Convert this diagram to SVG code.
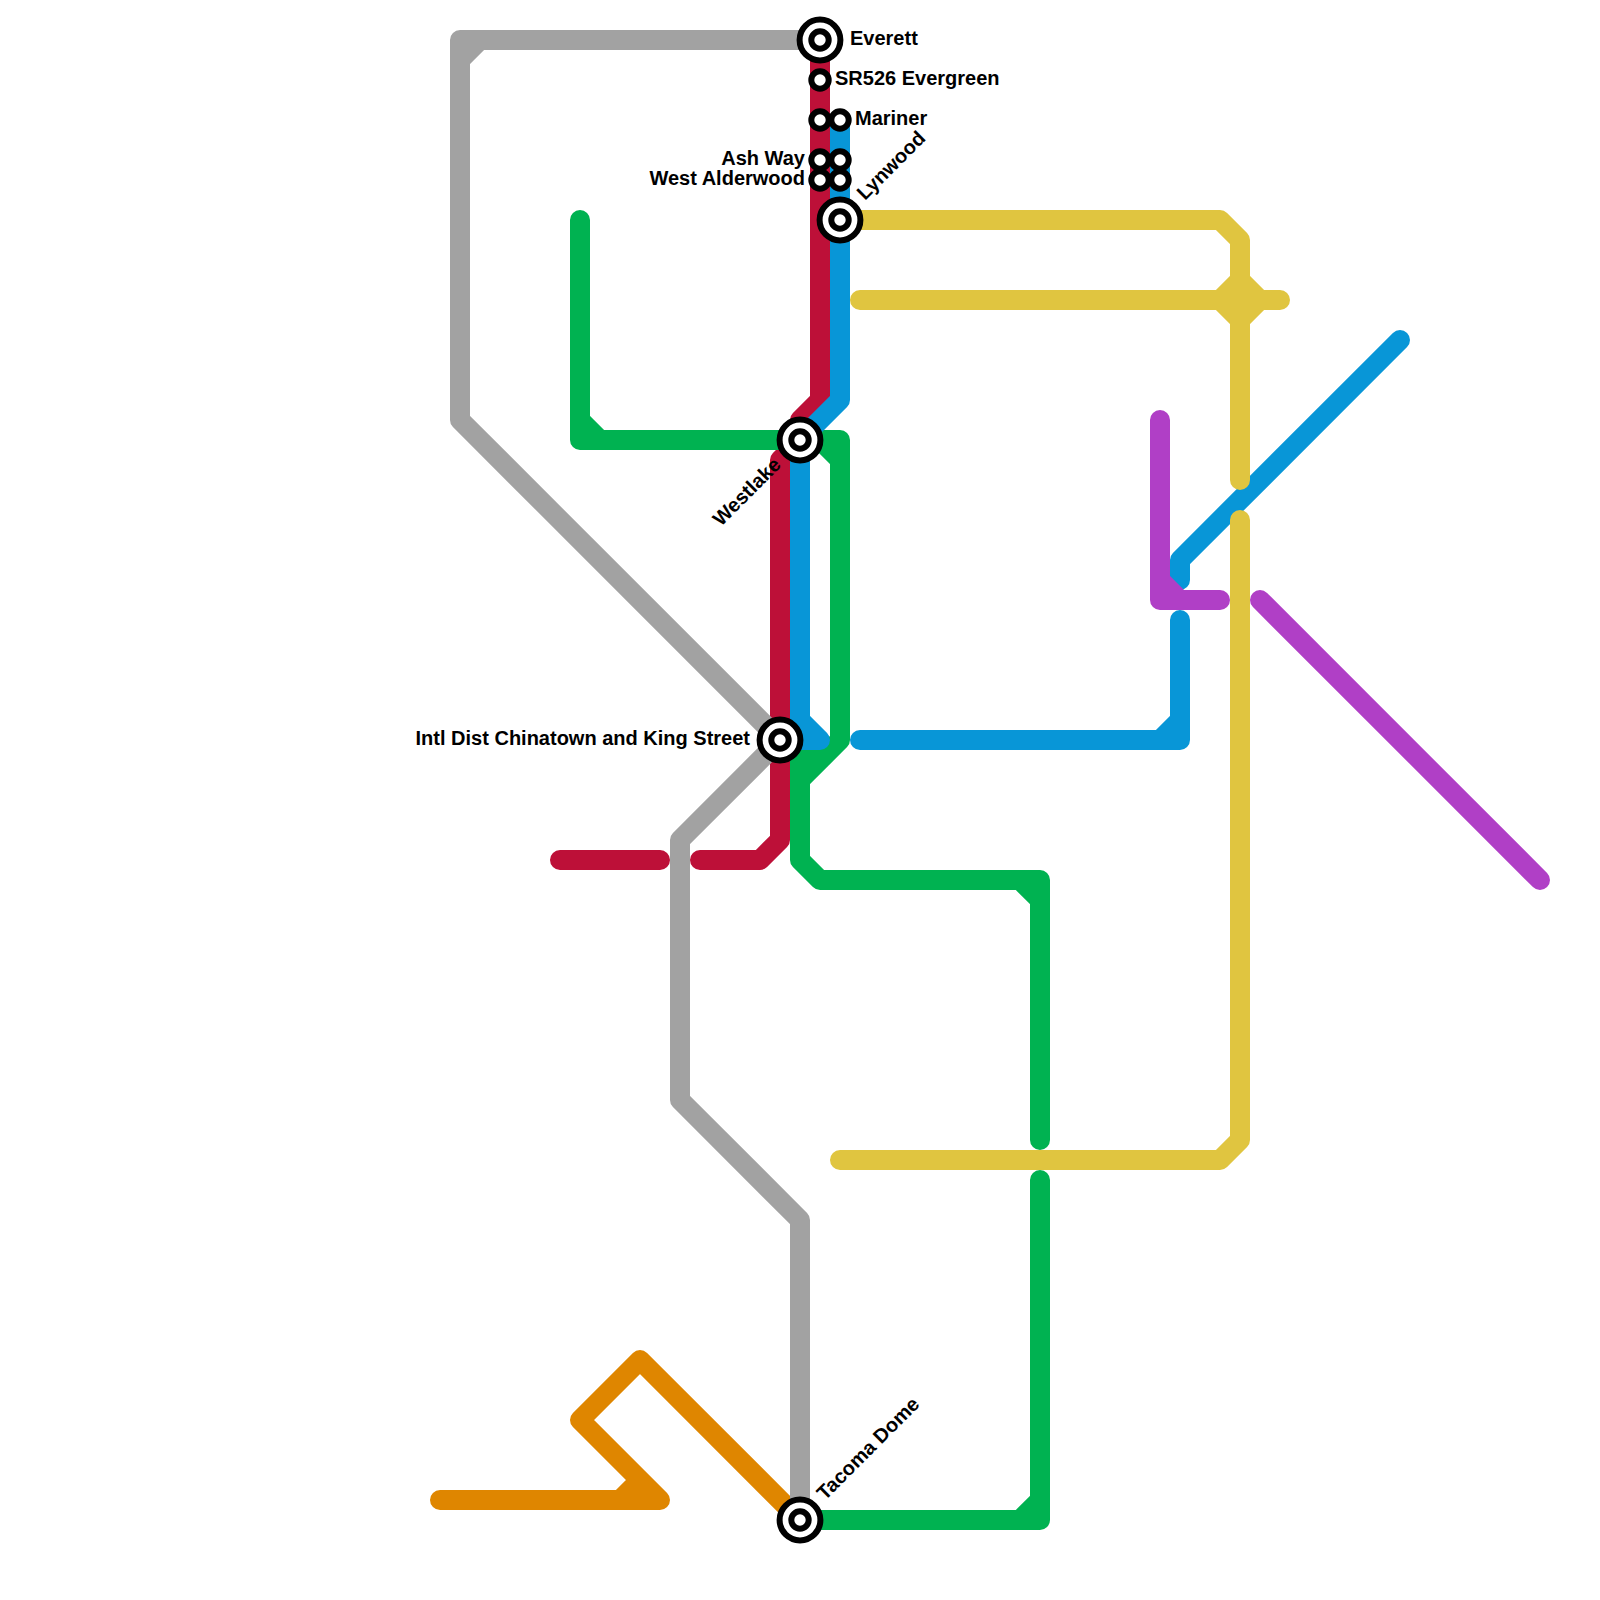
<svg xmlns="http://www.w3.org/2000/svg" width="1600" height="1600" viewBox="0 0 1600 1600">
<style>
.l{fill:none;stroke-width:20;stroke-linecap:round;stroke-linejoin:round}
.orange{stroke:#df8600}.red{stroke:#bd1038}.green{stroke:#00b251}.blue{stroke:#0896d7}.purple{stroke:#b03fc6}.yellow{stroke:#e0c540}.gray{stroke:#a2a2a2}
.o{fill:#fff;stroke:#000;stroke-width:6}
.t{font-family:"Liberation Sans",Arial,sans-serif;font-weight:700;font-size:20px;fill:#000}
.e{text-anchor:end}
</style>
<defs>
<g id="big"><circle r="20.400" class="o"/><circle r="8.700" class="o"/></g>
<circle id="small" r="8.700" class="o"/>
</defs>
<rect width="1600" height="1600" fill="#fff"/>
<g id="connectors">
<path id="line-orange" class="l orange" d="M440,1500H660L580,1420L640,1360L800,1520M620,1500L640,1480"/>
<path id="line-red" class="l red" d="M820,40V400L800,420V440L780,460V840L760,860H700M560,860H660"/>
<path id="line-green" class="l green" d="M580,220V440H840V740L800,780V860L820,880H1040V1140M1040,1180V1520H800M580,420L600,440M820,440L840,460M800,780V760H820M1020,880L1040,900M1020,1520L1040,1500"/>
<path id="line-blue" class="l blue" d="M840,120V400L800,440V720L820,740H780M860,740H1180V620M1160,740L1180,720M1180,580V560L1400,340"/>
<path id="line-purple" class="l purple" d="M1160,420V600H1220M1160,580L1180,600M1260,600L1540,880"/>
<path id="line-yellow" class="l yellow" d="M840,220H1220L1240,240V480M860,300H1280M1220,300L1240,280L1260,300L1240,320ZM1240,520V1140L1220,1160H840"/>
<path id="line-gray" class="l gray" d="M820,40H460V420L780,740L680,840V1100L800,1220V1520M480,40L460,60"/>
</g>
<g id="everett"><use href="#big" x="820" y="40"/><text class="t" x="850" y="44.500">Everett</text></g>
<g id="sr526"><use href="#small" x="820" y="80"/><text class="t" x="835" y="84.500">SR526 Evergreen</text></g>
<g id="mariner-west"><use href="#small" x="820" y="120"/></g>
<g id="mariner"><use href="#small" x="840" y="120"/><text class="t" x="855" y="124.500">Mariner</text></g>
<g id="ash-way"><use href="#small" x="820" y="160"/><use href="#small" x="840" y="160"/><text class="t e" x="805" y="164.500">Ash Way</text></g>
<g id="west-alderwood"><use href="#small" x="820" y="180"/><use href="#small" x="840" y="180"/><text class="t e" x="805" y="184.500">West Alderwood</text></g>
<g id="lynwood"><use href="#big" x="840" y="220"/><text class="t" transform="translate(865,201) rotate(-45)">Lynwood</text></g>
<g id="westlake"><use href="#big" x="800" y="440"/><text class="t e" transform="translate(782,466) rotate(-45)">Westlake</text></g>
<g id="intl-dist"><use href="#big" x="780" y="740"/><text class="t e" x="750" y="744.500">Intl Dist Chinatown and King Street</text></g>
<g id="tacoma-dome"><use href="#big" x="800" y="1520"/><text class="t" transform="translate(825,1501) rotate(-45)">Tacoma Dome</text></g>
</svg>
